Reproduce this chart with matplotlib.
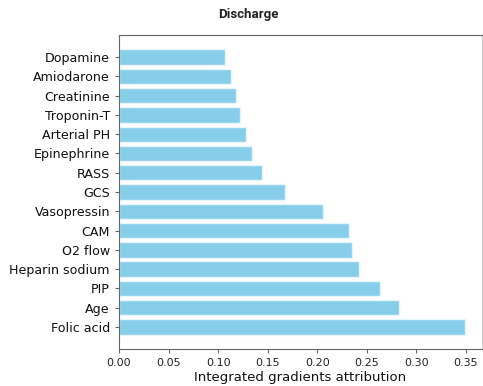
import matplotlib
matplotlib.use("Agg")
import matplotlib.pyplot as plt

features = [
    "Folic acid", "Age", "PIP", "Heparin sodium", "O2 flow", "CAM",
    "Vasopressin", "GCS", "RASS", "Epinephrine", "Arterial PH",
    "Troponin-T", "Creatinine", "Amiodarone", "Dopamine",
]
attribution = [
    0.349, 0.283, 0.263, 0.242, 0.235, 0.232,
    0.206, 0.168, 0.144, 0.134, 0.128,
    0.122, 0.118, 0.113, 0.107,
]
x_ticks = [0.00, 0.05, 0.10, 0.15, 0.20, 0.25, 0.30, 0.35]

fig = plt.figure(figsize=(4.83, 3.86), dpi=100)
ax = fig.add_axes([0.2464, 0.0959, 0.7516, 0.8131])

ax.barh(features, attribution, color="skyblue", edgecolor="#e8f5fb", linewidth=1)
ax.set_xticks(x_ticks)
ax.set_xticklabels([f"{t:.2f}" for t in x_ticks], fontsize=8, color="#222222")
ax.tick_params(axis="y", labelsize=9.1, length=3, color="#666666", labelcolor="#111111")
ax.tick_params(axis="x", length=3, color="#666666")
ax.set_xlabel("Integrated gradients attribution", fontsize=9.5, labelpad=2, color="#111111")

fig.text(0.515, 0.962, "Discharge", ha="center", va="center",
         fontsize=9.5, fontweight="bold", family="Roboto", color="#222222")

for side in ["left", "bottom", "top"]:
    ax.spines[side].set_color("#666666")
ax.spines["right"].set_color("#cccccc")

fig.savefig("out.png", dpi=100)
